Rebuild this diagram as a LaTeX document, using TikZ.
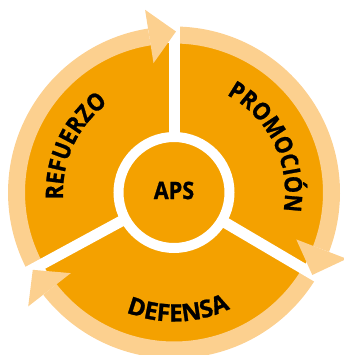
\documentclass[tikz,border=0pt]{standalone}
\usepackage{fontspec}
\setmainfont{Open Sans}
\newfontfamily\apsnarrow{Open Sans}[FakeStretch=0.9, BoldFeatures={FakeBold=1}]
\newfontfamily\apswide{Open Sans}[BoldFeatures={FakeBold=1}]
\usetikzlibrary{decorations.text}

\definecolor{apsorange}{RGB}{244,161,0}
\definecolor{apslight}{RGB}{252,208,143}

\newcommand\apsfont{\apsnarrow\fontsize{24}{28}\selectfont\bfseries}
\newcommand\apswidefont{\apswide\fontsize{24}{28}\selectfont\bfseries}

\tikzset{
  ringarc/.style={draw=apslight, line width=17pt},
  ringtip/.style={fill=apslight},
  spoke/.style={draw=white, line width=11pt},
  arclabel/.style={decorate, decoration={text along path, text align=center, text={#1}}}
}

\begin{document}
\begin{tikzpicture}[x=1pt,y=1pt]
\useasboundingbox (-174,-162.5) rectangle (169,192.5);

%Shape: Circle [id:disk]
\fill [apsorange] (0,0) circle (149.5);

%Shape: Arc [id:refuerzo]
\draw [ringarc] (208.5:157.5) arc [start angle=208.5, end angle=99, radius=157.5];
%Shape: Arc [id:promocion]
\draw [ringarc] (90:157.5) arc [start angle=90, end angle=-21, radius=157.5];
%Shape: Arc [id:defensa]
\draw [ringarc] (-30.5:157.5) arc [start angle=-30.5, end angle=-142, radius=157.5];

%Shape: Spokes
\draw [spoke] (0,0) -- (90:175);
\draw [spoke] (0,0) -- (208.5:175);
\draw [spoke] (0,0) -- (-30.5:175);

%Shape: Arrow heads
\fill [ringtip] (99:131) -- (89.3:161) -- (99:185) -- cycle;
\fill [ringtip] (-21:131) -- (-30.8:161) -- (-21:185) -- cycle;
\fill [ringtip] (218:131) -- (208.7:161) -- (218:185) -- cycle;

%Shape: Circle [id:center]
\draw [draw=white, line width=10pt, fill=apsorange] (0,0) circle (55.5);

% Text Node
\node (aps) at (0,2) {\apsfont APS};

% Text along arcs
\path [arclabel={|\apsfont|REFUERZO}] (205:111) arc [start angle=205, end angle=105, radius=111];
\path [arclabel={|\apsfont|PROMOCIÓN}] (76:111) arc [start angle=76, end angle=-24, radius=111];
\path [arclabel={|\apswidefont|DEFENSA}] (-138:129) arc [start angle=-138, end angle=-38, radius=129];

\end{tikzpicture}
\end{document}
